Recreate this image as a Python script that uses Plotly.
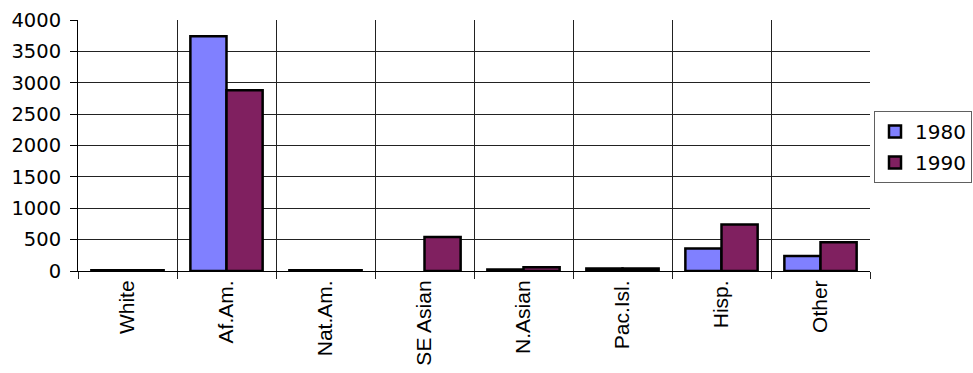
import plotly.graph_objects as go

categories = ["White", "Af.Am.", "Nat.Am.", "SE Asian", "N.Asian", "Pac.Isl.", "Hisp.", "Other"]
values_1980 = [10, 3740, 10, None, 25, 40, 360, 240]
values_1990 = [10, 2880, 10, 540, 60, 40, 740, 460]
y_ticks = [0, 500, 1000, 1500, 2000, 2500, 3000, 3500, 4000]

WIDE_FONT = "DejaVu Sans, Verdana, sans-serif"
LABEL_FONT = "Liberation Sans, Arial, sans-serif"

fig = go.Figure()
fig.add_trace(go.Bar(
    name="1980", x=categories, y=values_1980,
    marker=dict(color="#8080FF", line=dict(color="black", width=2.5)),
    legendgroup="a",
))
fig.add_trace(go.Bar(
    name="1990", x=categories, y=values_1990,
    marker=dict(color="#802060", line=dict(color="black", width=2.5)),
    legendgroup="b",
))

fig.update_layout(
    width=973, height=373,
    margin=dict(l=77.5, r=103, t=20, b=102, autoexpand=False),
    paper_bgcolor="white", plot_bgcolor="white",
    barmode="group", bargap=0.27, bargroupgap=0,
    font=dict(family=WIDE_FONT, size=19, color="black"),
    legend=dict(
        xref="container", yref="container",
        x=874 / 973, y=1 - 111 / 373, xanchor="left", yanchor="top",
        bordercolor="#606060", borderwidth=1,
        font=dict(family=WIDE_FONT, size=20), tracegroupgap=2,
        itemwidth=30,
    ),
    showlegend=True,
)
fig.update_xaxes(
    type="category", tickson="boundaries",
    showgrid=True, gridcolor="#222222", gridwidth=1,
    ticks="outside", ticklen=7, tickcolor="#222222",
    tickangle=-90, tickfont=dict(family=LABEL_FONT, size=21),
    showline=True, linecolor="black", linewidth=1,
)
fig.update_yaxes(
    range=[0, 4000], tickvals=y_ticks,
    tickfont=dict(family=WIDE_FONT, size=19.5),
    showgrid=True, gridcolor="#222222", gridwidth=1,
    ticks="outside", ticklen=7, tickcolor="black",
    ticklabelstandoff=5,
    showline=True, linecolor="black", linewidth=1,
    zeroline=False,
)

fig.write_html("out.html")
